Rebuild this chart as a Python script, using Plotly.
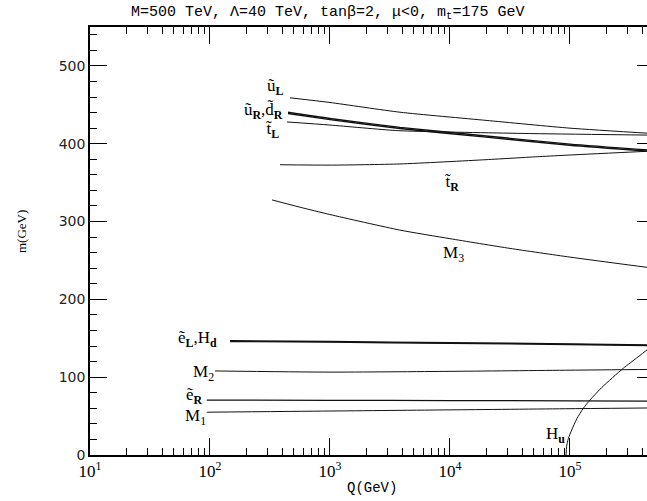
import plotly.graph_objects as go

# ---------------- data (Q in GeV, masses in GeV) ----------------
uL_Q = [464, 1000, 3830, 20000, 100000, 500000]
uL_m = [459, 453, 440.5, 430, 420, 413]

uR_Q = [447, 1000, 3830, 20000, 100000, 500000]
uR_m = [440.5, 432.5, 421, 410, 399.5, 391.5]
dR_Q = [447, 1000, 3830, 20000, 100000, 500000]
dR_m = [438.8, 431, 419.5, 408.5, 398, 390]

tL_Q = [438, 1000, 3500, 7000, 50000, 500000]
tL_m = [428, 424, 417, 415.5, 413, 411]

tR_Q = [383, 1000, 3830, 20000, 56000, 100000, 500000]
tR_m = [373, 372.5, 374, 379.5, 383.5, 385.5, 390.7]

M3_Q = [329, 560, 1000, 3830, 10000, 31600, 100000, 500000]
M3_m = [327.8, 318.5, 309, 289, 278, 265.5, 254.3, 240]

eL_Q = [147, 1000, 10000, 100000, 500000]
eL_m = [146.8, 145.8, 144.3, 142.8, 141.3]
Hd_Q = [147, 1000, 10000, 100000, 500000]
Hd_m = [145.9, 145.0, 143.5, 142.0, 140.5]

M2_Q = [110, 1000, 10000, 100000, 500000]
M2_m = [108, 106.5, 107.5, 109, 110]

eR_Q = [94, 1000, 10000, 100000, 500000]
eR_m = [70.6, 70.3, 70, 69.6, 69.3]

M1_Q = [94, 1000, 10000, 100000, 500000]
M1_m = [55, 56.5, 58, 59.5, 60.5]

Hu_Q = [92680, 93760, 94840, 97050, 103270, 114000, 129100, 146900,
        184900, 278000, 369000, 438500, 500000]
Hu_m = [0, 10.7, 15.2, 21.4, 32, 46.5, 60, 70.7, 87, 111.4, 126, 135, 140.6]

y_ticks = [0, 100, 200, 300, 400, 500]
x_ticks = [10, 100, 1000, 10000, 100000]
x_ticktext = ["10<sup>1</sup>", "10<sup>2</sup>", "10<sup>3</sup>", "10<sup>4</sup>", "10<sup>5</sup>"]

# ---------------- figure ----------------
fig = go.Figure()

def add(q, m, w=1.0):
    fig.add_trace(go.Scatter(x=q, y=m, mode="lines",
                             line=dict(color="#111", width=w, shape="spline", smoothing=0.6),
                             hoverinfo="skip", showlegend=False))

add(uL_Q, uL_m)
add(uR_Q, uR_m, 1.4)
add(dR_Q, dR_m, 1.4)
add(tL_Q, tL_m)
add(tR_Q, tR_m)
add(M3_Q, M3_m)
add(eL_Q, eL_m, 1.4)
add(Hd_Q, Hd_m, 1.4)
add(M2_Q, M2_m)
add(eR_Q, eR_m, 1.2)
add(M1_Q, M1_m)
add(Hu_Q, Hu_m)

# dummy trace for the right-hand tick axis
fig.add_trace(go.Scatter(x=[None], y=[None], yaxis="y2", showlegend=False, hoverinfo="skip"))

lab_font = dict(family="Liberation Serif", size=17, color="black")
labels = [
    ("ũ<sub><b>L</b></sub>", 2.542, 473),
    ("ũ<sub><b>R</b></sub>,d\u0303<sub><b>R</b></sub>", 2.444, 442),
    ("t\u0303<sub><b>L</b></sub>", 2.521, 418),
    ("t\u0303<sub><b>R</b></sub>", 4.014, 349.6),
    ("M<sub>3</sub>", 4.033, 258.4),
    ("ẽ<sub><b>L</b></sub>,H<sub><b>d</b></sub>", 1.896, 149),
    ("M<sub>2</sub>", 1.942, 106),
    ("ẽ<sub><b>R</b></sub>", 1.875, 75.8),
    ("M<sub>1</sub>", 1.879, 48.2),
    ("H<sub><b>u</b></sub>", 4.882, 25.7),
]
for t, lx, ly in labels:
    fig.add_annotation(x=lx, y=ly, xref="x", yref="y", text=t, showarrow=False,
                       font=lab_font, xanchor="center", yanchor="middle")

# title and axis titles
fig.add_annotation(x=(327 - 90) / 557, y=(455 - 13) / 428, xref="paper", yref="paper",
                   text="M=500 TeV, Λ=40 TeV, tanβ=2, μ&lt;0, m<sub>t</sub>=175 GeV",
                   showarrow=False, font=dict(family="Liberation Mono", size=15, color="black"),
                   xanchor="center", yanchor="middle")
fig.add_annotation(x=(372 - 90) / 557, y=(455 - 488) / 428, xref="paper", yref="paper",
                   text="Q(GeV)", showarrow=False,
                   font=dict(family="Liberation Mono", size=14, color="black"),
                   xanchor="center", yanchor="middle")
fig.add_annotation(x=(21 - 90) / 557, y=(455 - 232) / 428, xref="paper", yref="paper",
                   text="m(GeV)", showarrow=False, textangle=-90,
                   font=dict(family="Liberation Serif", size=13, color="black"),
                   xanchor="center", yanchor="middle")

fig.update_layout(
    width=647, height=501,
    margin=dict(l=90, r=0, t=27, b=46),
    paper_bgcolor="white", plot_bgcolor="white",
    xaxis=dict(type="log", range=[1, 5.642], tickvals=x_ticks, ticktext=x_ticktext,
               showgrid=False, zeroline=False, showline=True, linecolor="black", linewidth=1.5,
               mirror="ticks", ticks="inside", ticklen=17, tickcolor="black", tickwidth=1,
               minor=dict(ticks="inside", ticklen=7, dtick="D1", tickcolor="black", showgrid=False),
               tickfont=dict(family="Liberation Serif", size=17, color="black")),
    yaxis=dict(range=[0, 550], tickvals=y_ticks, showgrid=False, zeroline=False,
               showline=True, linecolor="black", linewidth=1.5, mirror=False,
               ticks="inside", ticklen=17, tickcolor="black", tickwidth=1,
               minor=dict(ticks="inside", ticklen=7, dtick=20, tickcolor="black", showgrid=False),
               tickfont=dict(family="DejaVu Sans", size=14, color="#222")),
    yaxis2=dict(range=[0, 550], overlaying="y", side="right", tickvals=y_ticks[1:],
                showgrid=False, zeroline=False, showline=False, showticklabels=False,
                ticks="inside", ticklen=10, tickcolor="black", tickwidth=1),
)

fig.write_html("out.html", config={"displayModeBar": False},
               post_script="document.body.style.margin='0';document.body.style.overflow='hidden';")
